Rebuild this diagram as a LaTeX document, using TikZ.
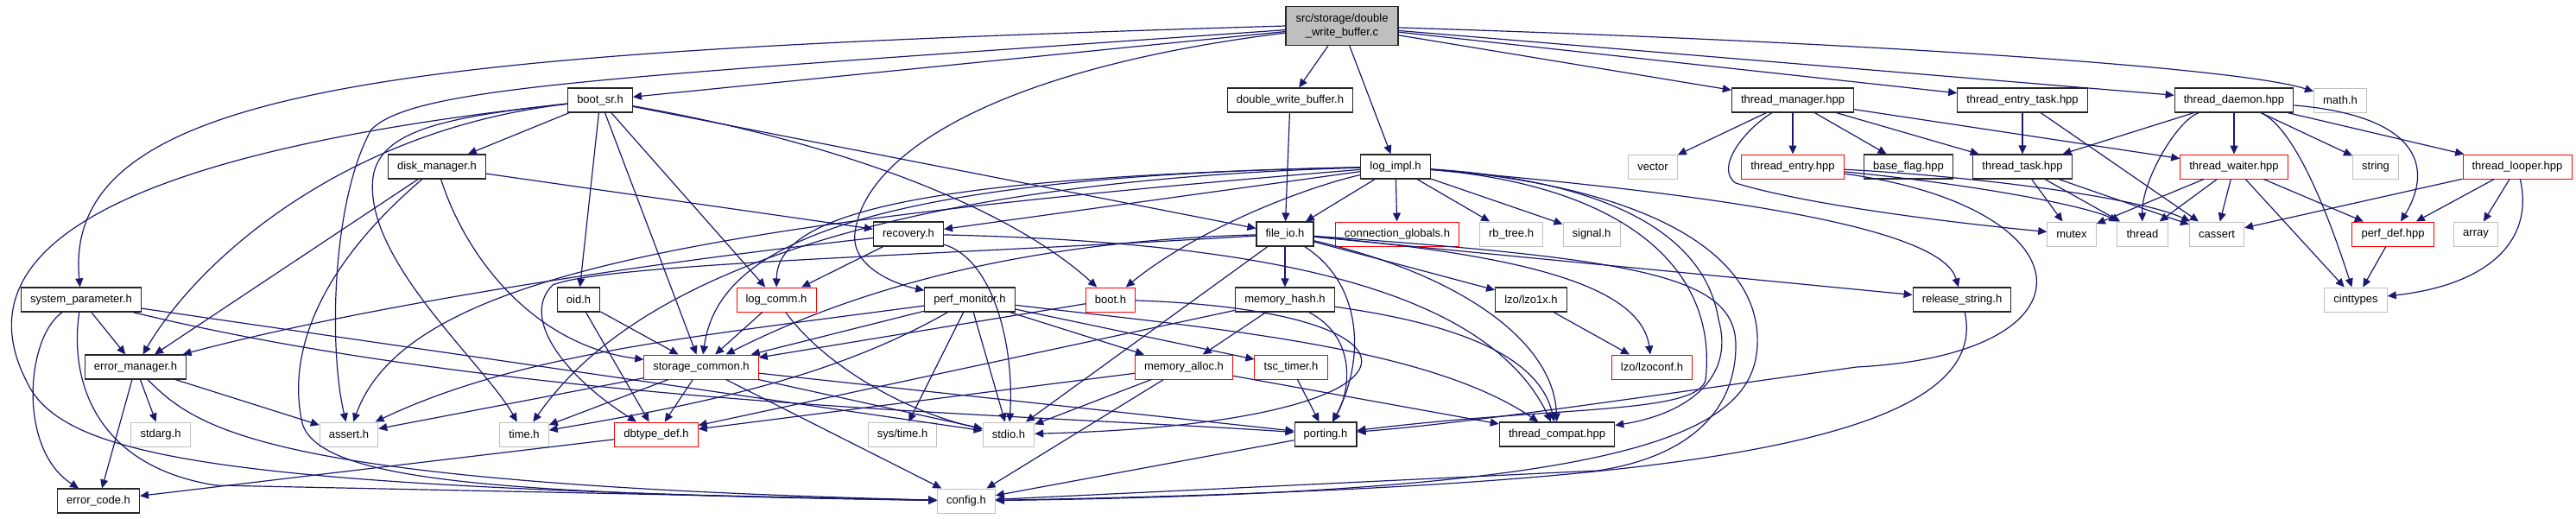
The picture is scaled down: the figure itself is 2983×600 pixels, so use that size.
\documentclass[tikz,border=0pt]{standalone}
\usepackage{fontspec}
\setmainfont{Liberation Sans}
\usetikzlibrary{arrows.meta}
\definecolor{edgeblue}{HTML}{191970}
\definecolor{nodegray}{HTML}{BFBFBF}

\begin{document}
\begin{tikzpicture}[x=0.5pt,y=-0.5pt,>={Triangle[length=5pt,width=4.5pt]}, line width=0.6pt]
                \tikzstyle{hdr} = [draw=black!85, line width=0.6pt, rectangle, minimum height=14pt, inner xsep=5.3pt, inner ysep=0pt, font=\fontsize{6.5}{8.3}\selectfont]
                \tikzstyle{inc} = [hdr, draw=red, line width=0.5pt]
                \tikzstyle{sys} = [hdr, draw=nodegray, line width=0.5pt]
                \tikzstyle{dep} = [->, draw=edgeblue, line width=0.6pt]

                \useasboundingbox (0,0) rectangle (2983,600);

                % top file
                \node[hdr, fill=nodegray, minimum width=65pt, minimum height=22.5pt, align=center] (main) at (1554,30) {src/storage/double\\\_write\_buffer.c};

                % row 1
                \node[hdr] (bootsr) at (695,116) {boot\_sr.h};
                \node[hdr] (dwbh) at (1494,116) {double\_write\_buffer.h};
                \node[hdr] (thrmgr) at (2076,116) {thread\_manager.hpp};
                \node[hdr] (threntrytask) at (2342,116) {thread\_entry\_task.hpp};
                \node[hdr] (thrdaemon) at (2587,116) {thread\_daemon.hpp};
                \node[sys] (mathh) at (2710,116) {math.h};

                % row 2
                \node[hdr] (diskmgr) at (506,193) {disk\_manager.h};
                \node[hdr] (logimpl) at (1616,193) {log\_impl.h};
                \node[sys] (vector) at (1914,193) {vector};
                \node[inc] (threntry) at (2076,193) {thread\_entry.hpp};
                \node[hdr] (baseflag) at (2210,193) {base\_flag.hpp};
                \node[hdr] (thrtask) at (2342,193) {thread\_task.hpp};
                \node[inc] (thrwaiter) at (2587,193) {thread\_waiter.hpp};
                \node[sys] (stringh) at (2751,193) {string};
                \node[inc] (thrlooper) at (2915,193) {thread\_looper.hpp};

                % row 3
                \node[hdr] (recovery) at (1052,271) {recovery.h};
                \node[hdr] (fileio) at (1488,271) {file\_io.h};
                \node[inc] (connglobals) at (1618,271) {connection\_globals.h};
                \node[sys] (rbtree) at (1750,271) {rb\_tree.h};
                \node[sys] (signalh) at (1843,271) {signal.h};
                \node[sys] (mutex) at (2399,271) {mutex};
                \node[sys] (threadh) at (2481,271) {thread};
                \node[sys] (cassert) at (2567,271) {cassert};
                \node[inc] (perfdef) at (2771,271) {perf\_def.hpp};
                \node[sys] (arrayh) at (2867,271) {array};

                % row 4
                \node[hdr] (syspar) at (94,347) {system\_parameter.h};
                \node[hdr] (oid) at (670,347) {oid.h};
                \node[inc] (logcomm) at (899,347) {log\_comm.h};
                \node[hdr] (perfmon) at (1123,347) {perf\_monitor.h};
                \node[inc] (booth) at (1286,347) {boot.h};
                \node[hdr] (memhash) at (1488,347) {memory\_hash.h};
                \node[hdr] (lzoonex) at (1773,347) {lzo/lzo1x.h};
                \node[hdr] (relstring) at (2272,347) {release\_string.h};
                \node[sys] (cinttypes) at (2728,347) {cinttypes};

                % row 5
                \node[hdr] (errmgr) at (157,425) {error\_manager.h};
                \node[inc] (storcommon) at (812,425) {storage\_common.h};
                \node[inc] (memalloc) at (1371,425) {memory\_alloc.h};
                \node[inc] (tsctimer) at (1495,425) {tsc\_timer.h};
                \node[inc] (lzoconf) at (1913,425) {lzo/lzoconf.h};

                % row 6
                \node[sys] (stdarg) at (186,503) {stdarg.h};
                \node[sys] (assert) at (404,503) {assert.h};
                \node[sys] (timeh) at (607,503) {time.h};
                \node[inc] (dbtype) at (760,503) {dbtype\_def.h};
                \node[sys] (systime) at (1045,503) {sys/time.h};
                \node[sys] (stdioh) at (1168,503) {stdio.h};
                \node[hdr] (porting) at (1535,503) {porting.h};
                \node[hdr] (thrcompat) at (1803,503) {thread\_compat.hpp};

                % row 7
                \node[hdr] (errcode) at (114,580) {error\_code.h};
                \node[sys] (config) at (1119,580) {config.h};

                % includes of the top file
                \draw[dep] (main.west) .. controls (500,60) and (70,90) .. (syspar);
                \draw[dep] (main) -- (bootsr);
                \draw[dep] (main) .. controls (700,90) and (480,100) .. (430,150) .. controls (385,230) and (380,400) .. (assert);
                \draw[dep] (main) .. controls (1150,80) and (1000,180) .. (990,270) .. controls (985,310) and (1040,330) .. (perfmon);
                \draw[dep] (main) -- (dwbh);
                \draw[dep] (main) -- (logimpl);
                \draw[dep] (main) -- (thrmgr);
                \draw[dep] (main) -- (threntrytask);
                \draw[dep] (main) -- (thrdaemon);
                \draw[dep] (main) .. controls (2200,50) and (2600,80) .. (mathh);
                \draw[dep] (dwbh) -- (fileio);

                % boot_sr.h
                \draw[dep] (bootsr) -- (diskmgr);
                \draw[dep] (bootsr) .. controls (400,150) and (230,300) .. (errmgr);
                \draw[dep] (bootsr) .. controls (100,180) and (-40,300) .. (30,440) .. controls (70,530) and (250,565) .. (config);
                \draw[dep] (bootsr) .. controls (520,135) and (440,150) .. (432,205) .. controls (420,300) and (560,420) .. (timeh);
                \draw[dep] (bootsr) -- (oid);
                \draw[dep] (bootsr) -- (storcommon);
                \draw[dep] (bootsr) -- (logcomm);
                \draw[dep] (bootsr) -- (fileio);
                \draw[dep] (bootsr) .. controls (1000,170) and (1180,250) .. (booth);

                % disk_manager.h
                \draw[dep] (diskmgr) -- (errmgr);
                \draw[dep] (diskmgr) .. controls (380,300) and (330,400) .. (350,490) .. controls (370,560) and (600,572) .. (config);
                \draw[dep] (diskmgr) .. controls (540,300) and (620,400) .. (storcommon);
                \draw[dep] (diskmgr) -- (recovery);

                % system_parameter.h
                \draw[dep] (syspar) -- (errmgr);
                \draw[dep] (syspar) .. controls (30,390) and (20,520) .. (errcode);
                \draw[dep] (syspar) .. controls (80,440) and (110,540) .. (250,562) -- (config);
                \draw[dep] (syspar) -- (stdioh);
                \draw[dep] (syspar) .. controls (600,470) and (1200,480) .. (porting);

                % error_manager.h
                \draw[dep] (errmgr) -- (stdarg);
                \draw[dep] (errmgr) -- (assert);
                \draw[dep] (errmgr) -- (errcode);
                \draw[dep] (errmgr) .. controls (230,500) and (320,560) .. (config);

                % oid.h
                \draw[dep] (oid) -- (storcommon);
                \draw[dep] (oid) -- (dbtype);

                % recovery.h
                \draw[dep] (recovery) -- (logcomm);
                \draw[dep] (recovery) .. controls (1150,300) and (1175,400) .. (stdioh);
                \draw[dep] (recovery) .. controls (700,310) and (400,360) .. (errmgr);
                \draw[dep] (recovery) .. controls (1450,280) and (1720,330) .. (thrcompat);

                % log_comm.h
                \draw[dep] (logcomm) -- (storcommon);
                \draw[dep] (logcomm) .. controls (960,430) and (1060,480) .. (stdioh);

                % perf_monitor.h
                \draw[dep] (perfmon) -- (storcommon);
                \draw[dep] (perfmon) .. controls (800,390) and (600,410) .. (assert);
                \draw[dep] (perfmon) .. controls (960,440) and (800,470) .. (timeh);
                \draw[dep] (perfmon) -- (systime);
                \draw[dep] (perfmon) -- (stdioh);
                \draw[dep] (perfmon) -- (memalloc);
                \draw[dep] (perfmon) -- (tsctimer);
                \draw[dep] (perfmon) .. controls (1400,380) and (1650,400) .. (thrcompat);

                % boot.h
                \draw[dep] (booth) -- (storcommon);
                \draw[dep] (booth) .. controls (1680,360) and (1680,490) .. (stdioh);

                % file_io.h
                \draw[dep] (fileio) -- (memhash);
                \draw[dep] (fileio) .. controls (1580,330) and (1580,420) .. (porting);
                \draw[dep] (fileio) -- (stdioh);
                \draw[dep] (fileio) .. controls (1700,320) and (1800,400) .. (thrcompat);
                \draw[dep] (fileio) -- (lzoonex);
                \draw[dep] (fileio) .. controls (1760,295) and (1900,330) .. (lzoconf);
                \draw[dep] (fileio) -- (relstring);
                \draw[dep] (fileio) .. controls (1150,280) and (960,350) .. (storcommon);
                \draw[dep] (fileio) .. controls (1100,295) and (700,305) .. (640,330) .. controls (600,370) and (660,440) .. (dbtype);
                \draw[dep] (fileio) .. controls (1900,300) and (2010,320) .. (2010,400) .. controls (2010,480) and (1950,530) .. (1850,545) -- (config);

                % log_impl.h
                \draw[dep] (logimpl) -- (recovery);
                \draw[dep] (logimpl) .. controls (1050,205) and (900,250) .. (logcomm);
                \draw[dep] (logimpl) .. controls (950,205) and (830,300) .. (storcommon);
                \draw[dep] (logimpl) .. controls (800,260) and (470,320) .. (assert);
                \draw[dep] (logimpl) .. controls (850,215) and (680,400) .. (timeh);
                \draw[dep] (logimpl) -- (fileio);
                \draw[dep] (logimpl) -- (connglobals);
                \draw[dep] (logimpl) -- (rbtree);
                \draw[dep] (logimpl) -- (signalh);
                \draw[dep] (logimpl) .. controls (1500,220) and (1380,270) .. (booth);
                \draw[dep] (logimpl) .. controls (2050,230) and (2250,270) .. (relstring);
                \draw[dep] (logimpl) .. controls (1870,210) and (1975,275) .. (1990,370) .. controls (2010,440) and (1950,480) .. (thrcompat);
                \draw[dep] (logimpl) .. controls (1900,215) and (2040,290) .. (2035,400) .. controls (2030,500) and (1900,570) .. (config);
                \draw[dep] (logimpl) .. controls (1880,215) and (1990,310) .. (1975,440) .. controls (1965,480) and (1800,470) .. (porting);

                % memory_hash.h
                \draw[dep] (memhash) -- (memalloc);
                \draw[dep] (memhash) .. controls (1570,390) and (1565,450) .. (porting);
                \draw[dep] (memhash) .. controls (1650,370) and (1780,400) .. (thrcompat);
                \draw[dep] (memhash) -- (dbtype);

                % memory_alloc.h, tsc_timer.h
                \draw[dep] (memalloc) -- (stdioh);
                \draw[dep] (memalloc) -- (config);
                \draw[dep] (memalloc) -- (dbtype);
                \draw[dep] (memalloc) -- (thrcompat);
                \draw[dep] (tsctimer) -- (porting);

                % storage_common.h
                \draw[dep] (storcommon) -- (dbtype);
                \draw[dep] (storcommon) -- (config);
                \draw[dep] (storcommon) -- (stdioh);
                \draw[dep] (storcommon) -- (porting);
                \draw[dep] (storcommon) -- (assert);
                \draw[dep] (storcommon) -- (timeh);

                % the rest
                \draw[dep] (dbtype) -- (errcode);
                \draw[dep] (porting) -- (config);
                \draw[dep] (lzoonex) -- (lzoconf);
                \draw[dep] (relstring) .. controls (2310,520) and (1900,565) .. (config);

                % thread headers
                \draw[dep] (thrmgr) -- (vector);
                \draw[dep] (thrmgr) -- (threntry);
                \draw[dep] (thrmgr) -- (baseflag);
                \draw[dep] (thrmgr) -- (thrtask);
                \draw[dep] (thrmgr) .. controls (2020,150) and (1985,195) .. (2010,212) .. controls (2100,240) and (2300,262) .. (mutex);
                \draw[dep] (thrmgr) -- (thrwaiter);

                \draw[dep] (threntry) .. controls (2300,205) and (2480,230) .. (cassert);
                \draw[dep] (threntry) .. controls (2300,215) and (2420,240) .. (threadh);
                \draw[dep] (threntry) .. controls (2420,240) and (2440,410) .. (2150,425) .. controls (1900,460) and (1700,490) .. (porting);

                \draw[dep] (threntrytask) -- (thrtask);
                \draw[dep] (threntrytask) -- (cassert);

                \draw[dep] (thrdaemon) -- (thrtask);
                \draw[dep] (thrdaemon) .. controls (2520,140) and (2480,210) .. (threadh);
                \draw[dep] (thrdaemon) -- (thrwaiter);
                \draw[dep] (thrdaemon) .. controls (2660,150) and (2700,260) .. (cinttypes);
                \draw[dep] (thrdaemon) -- (stringh);
                \draw[dep] (thrdaemon) -- (thrlooper);
                \draw[dep] (thrdaemon) .. controls (2810,135) and (2815,200) .. (perfdef);

                \draw[dep] (thrtask) -- (mutex);
                \draw[dep] (thrtask) -- (threadh);
                \draw[dep] (thrtask) -- (cassert);

                \draw[dep] (thrwaiter) -- (mutex);
                \draw[dep] (thrwaiter) -- (threadh);
                \draw[dep] (thrwaiter) -- (cassert);
                \draw[dep] (thrwaiter) -- (cinttypes);
                \draw[dep] (thrwaiter) -- (perfdef);

                \draw[dep] (thrlooper) -- (cassert);
                \draw[dep] (thrlooper) -- (perfdef);
                \draw[dep] (thrlooper) -- (arrayh);
                \draw[dep] (thrlooper) .. controls (2935,280) and (2880,330) .. (cinttypes);

                \draw[dep] (perfdef) -- (cinttypes);
            \end{tikzpicture}
\end{document}
